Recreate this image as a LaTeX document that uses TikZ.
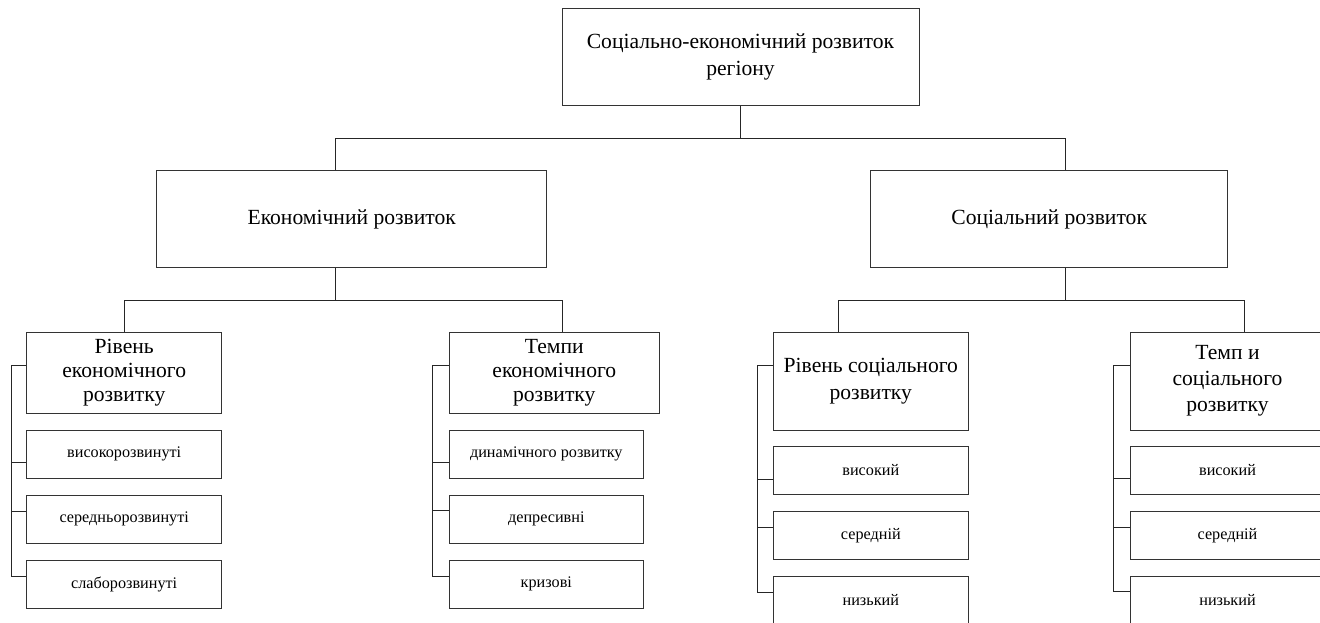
\documentclass[tikz,border=0pt]{standalone}
\usepackage{fontspec}
\setmainfont{Liberation Serif}
\begin{document}
\begin{tikzpicture}[x=1pt,y=-1pt,
  box/.style={draw=black!80,line width=0.9pt,rectangle,inner sep=2pt,align=center,text=black},
  big/.style={box,font=\fontsize{21.6}{27}\selectfont},
  mid/.style={box,font=\fontsize{21.6}{24}\selectfont},
  midb/.style={box,font=\fontsize{21.6}{27}\selectfont},
  small/.style={box,font=\fontsize{16.2}{19}\selectfont,minimum height=48.3pt},
  conn/.style={draw=black!85,line width=0.9pt}]
\useasboundingbox (0,0) rectangle (1320,623);
\clip (0,0) rectangle (1320,623);
% level 0
\node[big,minimum width=357pt,minimum height=97.4pt] (top) at (740.5,57) {Соціально-економічний розвиток\\регіону};
% level 1
\node[big,minimum width=390pt,minimum height=96.6pt] (econ) at (351.7,219) {Економічний розвиток};
\node[big,minimum width=357pt,minimum height=96.6pt] (soc) at (1049.2,219) {Соціальний розвиток};
% level 2
\node[mid,minimum width=195pt,minimum height=80.8pt] (rE) at (124.2,372.9) {Рівень\\економічного\\розвитку};
\node[mid,minimum width=210pt,minimum height=81pt] (tE) at (554.3,372.8) {Темпи\\економічного\\розвитку};
\node[midb,minimum width=195pt,minimum height=97.7pt] (rS) at (870.8,381.2) {Рівень соціального\\розвитку};
\node[mid,minimum width=195pt,minimum height=97.7pt,font=\fontsize{21.6}{26}\selectfont] (tS) at (1227.5,381.2) {Темп и\\соціального\\розвитку};
% level 3
\node[small,minimum width=195pt] (rE1) at (124.2,454.2) {високорозвинуті};
\node[small,minimum width=195pt] (rE2) at (124.2,519.2) {середньорозвинуті};
\node[small,minimum width=195pt] (rE3) at (124.2,584.2) {слаборозвинуті};
\node[small,minimum width=194pt] (tE1) at (546.3,454.2) {динамічного розвитку};
\node[small,minimum width=194pt] (tE2) at (546.3,519.2) {депресивні};
\node[small,minimum width=194pt] (tE3) at (546.3,584.2) {кризові};
\node[small,minimum width=195pt] (rS1) at (870.8,470.2) {високий};
\node[small,minimum width=195pt] (rS2) at (870.8,535.2) {середній};
\node[small,minimum width=195pt] (rS3) at (870.8,600.2) {низький};
\node[small,minimum width=195pt] (tS1) at (1227.5,470.2) {високий};
\node[small,minimum width=195pt] (tS2) at (1227.5,535.2) {середній};
\node[small,minimum width=195pt] (tS3) at (1227.5,600.2) {низький};
% tree connectors
\coordinate (eT) at ([xshift=-16.4pt]econ.north);
\coordinate (sT) at ([xshift=15.8pt]soc.north);
\draw[conn] (top.south) -- ++(0,32.6) coordinate (j0);
\draw[conn] (eT) |- (j0) -| (sT);
\coordinate (eB) at ([xshift=-16.4pt]econ.south);
\coordinate (tEt) at ([xshift=8pt]tE.north);
\draw[conn] (eB) -- ++(0,32.7) coordinate (j1);
\draw[conn] (rE.north) |- (j1) -| (tEt);
\coordinate (sB) at ([xshift=15.8pt]soc.south);
\coordinate (rSt) at ([xshift=-32.5pt]rS.north);
\coordinate (tSt) at ([xshift=16.5pt]tS.north);
\draw[conn] (sB) -- ++(0,32.7) coordinate (j2);
\draw[conn] (rSt) |- (j2) -| (tSt);
% side brackets
\draw[conn] ([yshift=7.9pt]rE.west) -| ([xshift=-15pt,yshift=8.2pt]rE3.west) -- ([yshift=8.2pt]rE3.west);
\draw[conn] ([yshift=-8.5pt]rE1.west) -- ++(-15,0);
\draw[conn] ([yshift=8.2pt]rE2.west) -- ++(-15,0);
\draw[conn] ([yshift=7.8pt]tE.west) -| ([xshift=-16.6pt,yshift=8.2pt]tE3.west) -- ([yshift=8.2pt]tE3.west);
\draw[conn] ([yshift=-8.1pt]tE1.west) -- ++(-16.6,0);
\draw[conn] ([yshift=9.2pt]tE2.west) -- ++(-16.6,0);
\draw[conn] ([yshift=16.2pt]rS.west) -| ([xshift=-15.6pt,yshift=7.9pt]rS3.west) -- ([yshift=7.9pt]rS3.west);
\draw[conn] ([yshift=-8.8pt]rS1.west) -- ++(-15.6,0);
\draw[conn] ([yshift=7.5pt]rS2.west) -- ++(-15.6,0);
\draw[conn] ([yshift=16.2pt]tS.west) -| ([xshift=-15.7pt,yshift=8.5pt]tS3.west) -- ([yshift=8.5pt]tS3.west);
\draw[conn] ([yshift=-8.1pt]tS1.west) -- ++(-15.7,0);
\draw[conn] ([yshift=7.5pt]tS2.west) -- ++(-15.7,0);
\end{tikzpicture}
\end{document}
